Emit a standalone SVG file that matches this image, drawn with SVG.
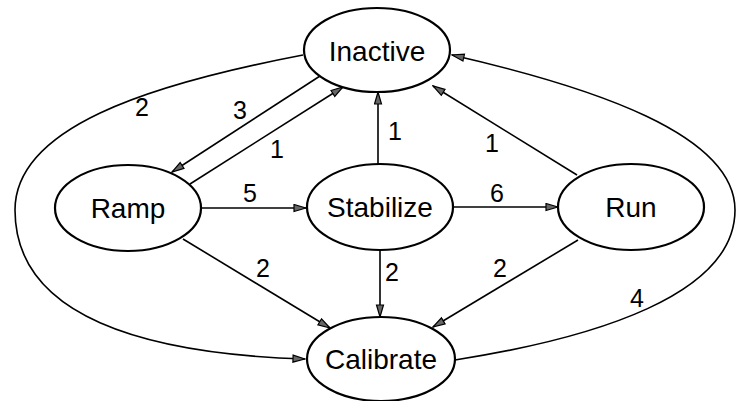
<svg xmlns="http://www.w3.org/2000/svg" width="739" height="401" viewBox="0 0 739 401">
<style>
.node ellipse{fill:#fff;stroke:#000;stroke-width:2.2}
.node text{font-family:"Liberation Sans",Arial,sans-serif;font-size:28px;text-anchor:middle;fill:#000}
.edges path,.edges line{fill:none;stroke:#000;stroke-width:1.6;marker-end:url(#arr)}
.lbl{font-family:"Liberation Sans",Arial,sans-serif;font-size:25px;text-anchor:middle;fill:#000}
</style>
<defs>
<marker id="arr" markerUnits="userSpaceOnUse" markerWidth="14" markerHeight="10" refX="13" refY="4.5" orient="auto">
<path d="M1,1 L13,4.5 L1,8 z" fill="#666" stroke="#000" stroke-width="1.2"/>
</marker>
</defs>
<rect width="739" height="401" fill="#fff"/>
<g class="edges">
<line x1="320" y1="76" x2="172" y2="172"/>
<line x1="190" y1="184" x2="343" y2="87"/>
<line x1="378" y1="164" x2="378" y2="92"/>
<line x1="577" y1="175" x2="433" y2="86"/>
<line x1="202" y1="208" x2="306" y2="208"/>
<line x1="453" y1="207" x2="558" y2="207"/>
<line x1="183" y1="239" x2="330" y2="328"/>
<line x1="380" y1="250" x2="380" y2="317"/>
<line x1="578" y1="240" x2="433" y2="327"/>
<path d="M303,55 C146,85 15,128 15,210 C15,317 145,354 305,359"/>
<path d="M455,360 C595,338 735,295 735,210 C735,134 592,87 452,55"/>
</g>
<g id="inactive" class="node"><ellipse cx="377" cy="50" rx="73" ry="42"/><text x="377" y="61">Inactive</text></g>
<g id="ramp" class="node"><ellipse cx="128" cy="208" rx="73" ry="43"/><text x="128" y="218">Ramp</text></g>
<g id="stabilize" class="node"><ellipse cx="380" cy="207" rx="73" ry="43"/><text x="380" y="217">Stabilize</text></g>
<g id="run" class="node"><ellipse cx="631" cy="207" rx="73" ry="43"/><text x="631" y="217">Run</text></g>
<g id="calibrate" class="node"><ellipse cx="381" cy="359" rx="74" ry="42"/><text x="381" y="369">Calibrate</text></g>
<g id="labels">
<text class="lbl" x="142" y="116">2</text>
<text class="lbl" x="240" y="119">3</text>
<text class="lbl" x="277" y="158">1</text>
<text class="lbl" x="250" y="202">5</text>
<text class="lbl" x="263" y="277">2</text>
<text class="lbl" x="395" y="140">1</text>
<text class="lbl" x="392" y="281">2</text>
<text class="lbl" x="500" y="277">2</text>
<text class="lbl" x="497" y="202">6</text>
<text class="lbl" x="492" y="152">1</text>
<text class="lbl" x="637" y="307">4</text>
</g>
</svg>
